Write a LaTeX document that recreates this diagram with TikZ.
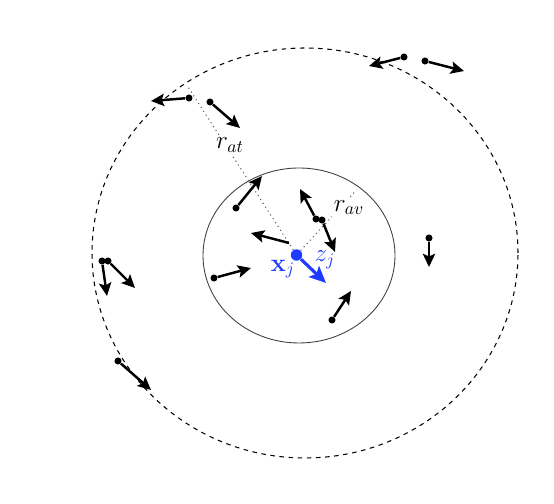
\documentclass[tikz,border=0pt]{standalone}
\usepackage{amsmath,amssymb}
\usepackage{xcolor}
\usetikzlibrary{arrows.meta,calc}
\definecolor{PartBlue}{HTML}{1E3CFF}

\begin{document}
\begin{tikzpicture}[
  particle/.style={circle,fill=black,inner sep=0pt,minimum size=4pt},
  velarrow/.style={-{Stealth[length=7.5pt,width=7pt,inset=1.5pt]},line width=1.4pt},
  radiusline/.style={dotted,gray!70!black,line width=0.6pt},
  lab/.style={font=\Large,fill=white,inner sep=1pt}]
\useasboundingbox (0,0) rectangle (11.08,10.08);
% zones
\draw[dashed,dash pattern=on 2.6pt off 2.6pt,line width=0.6pt] (6.10,5.02) ellipse [x radius=4.26,y radius=4.10];
\draw[black!75,line width=0.5pt] (5.98,4.97) ellipse [x radius=1.92,y radius=1.75];
% focal particle
\node[circle,fill=PartBlue,inner sep=0pt,minimum size=6.5pt] (xj) at (5.93,4.98) {};
\coordinate (atend) at (3.76,8.34);
\coordinate (avend) at (7.13,6.28);
\draw[radiusline] (xj) -- (atend);
\draw[radiusline] (xj) -- (avend);
\node[lab] (rat) at (4.60,7.18) {$r_{at}$};
\node[lab] (rav) at (6.98,5.93) {$r_{av}$};
% neighbours
\foreach \px/\py/\qx/\qy [count=\i] in {3.78/8.12/3.02/8.06, 4.20/8.04/4.80/7.52,
  8.08/8.94/7.38/8.76, 8.50/8.86/9.28/8.66, 2.04/4.86/2.14/4.16,
  2.16/4.86/2.70/4.32, 2.36/2.86/3.02/2.28, 8.58/5.32/8.58/4.74,
  4.72/5.92/5.24/6.56, 6.32/5.70/6.00/6.30, 6.44/5.68/6.70/5.04,
  4.28/4.52/5.02/4.72, 6.64/3.68/7.02/4.26}{
  \node[particle] (p\i) at (\px,\py) {};
  \coordinate (v\i) at (\qx,\qy);
  \draw[velarrow] (p\i) -- (v\i);
}
\coordinate (p14) at (5.78,5.22);
\coordinate (v14) at (5.02,5.42);
\draw[velarrow] (p14) -- (v14);
% velocity of x_j
\coordinate (zj) at (6.52,4.42);
\draw[PartBlue,line width=1.8pt,-{Stealth[length=9.5pt,width=8.5pt,inset=2pt]}] (xj) -- (zj);
\node[font=\Large,text=PartBlue] (xlab) at (5.66,4.70) {$\mathbf{x}_j$};
\node[font=\Large,text=PartBlue] (zlab) at (6.50,4.88) {$z_j$};
\end{tikzpicture}
\end{document}
